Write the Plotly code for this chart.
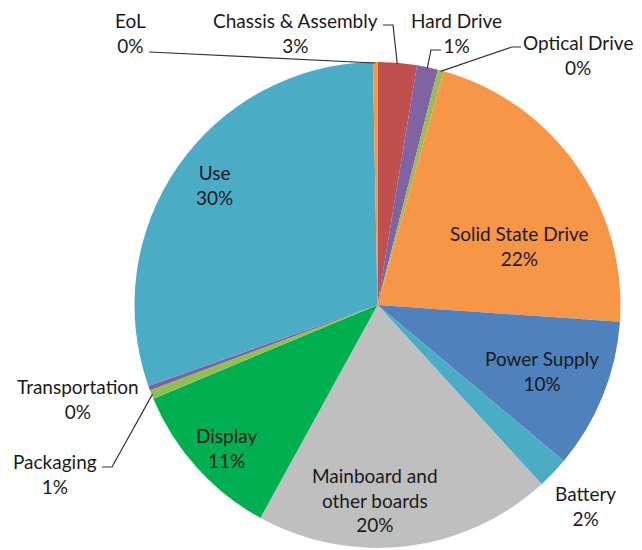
import math
import plotly.graph_objects as go

# ---- data ----
categories = ["Chassis & Assembly", "Hard Drive", "Optical Drive", "Solid State Drive",
              "Power Supply", "Battery", "Mainboard and other boards", "Display",
              "Packaging", "Transportation", "Use", "EoL"]
values = [2.6, 1.4, 0.4, 21.7, 10.0, 2.1, 19.8, 10.7, 0.6, 0.3, 30.1, 0.3]
colors = ["#C0504D", "#8064A2", "#9BBB59", "#F79646", "#4F81BD", "#4BACC6",
          "#BFBFBF", "#00B050", "#92C050", "#7F5FA8", "#4BACC6", "#F79646"]

# ---- layout (screen pixels; page body has an 8px margin) ----
OFF = 8
W, H = 642 - OFF, 550 - OFF
CX, CY, R = 377.5, 305, 243
FONT = "Lato"
TXT = "#1a1a1a"

total = sum(values)
pct = [v / total * 100 for v in values]

def px(x):
    return (x - OFF) / W

def py(y):
    return 1 - (y - OFF) / H

fig = go.Figure(go.Pie(
    labels=categories, values=values, sort=False, direction="clockwise", rotation=0,
    marker=dict(colors=colors, line=dict(width=0)), textinfo="none", hoverinfo="label+percent",
    showlegend=False,
    domain=dict(x=[px(CX - R), px(CX + R)], y=[py(CY + R), py(CY - R)]),
))

# label text positions (pixel centers of the text block)
label_pos = {
    "EoL": (131, 33),
    "Chassis & Assembly": (295, 33),
    "Hard Drive": (456, 33),
    "Optical Drive": (578, 55),
    "Solid State Drive": (519, 246),
    "Power Supply": (542, 371),
    "Battery": (585, 506),
    "Mainboard and other boards": (375, 500),
    "Display": (226, 448),
    "Packaging": (55, 474),
    "Transportation": (78, 399),
    "Use": (214, 185),
}
display_name = {"Mainboard and other boards": "Mainboard and<br>other boards"}

# leader lines: label-side points, ending on the slice edge
leaders = {
    "EoL": [(149, 52)],
    "Chassis & Assembly": [(383, 25), (393, 25)],
    "Hard Drive": [(441, 50), (431, 50)],
    "Optical Drive": [(521, 47), (512, 47)],
    "Packaging": [(102, 467), (112, 467)],
}

annotations = []
shapes = []
cum = 0.0
for name, p in zip(categories, pct):
    mid = (cum + p / 2) / 100 * 2 * math.pi
    cum += p
    lx, ly = label_pos[name]
    text = f"{display_name.get(name, name)}<br>{round(p):d}%"
    annotations.append(dict(x=px(lx), y=py(ly), xref="paper", yref="paper", text=text,
                            showarrow=False, xanchor="center", yanchor="middle",
                            font=dict(family=FONT, size=19, color=TXT), align="center"))
    if name in leaders:
        ex = CX + (R - 1) * math.sin(mid)
        ey = CY - (R - 1) * math.cos(mid)
        pts = leaders[name] + [(ex, ey)]
        path = "M " + " L ".join(f"{px(a):.5f},{py(b):.5f}" for a, b in pts)
        shapes.append(dict(type="path", path=path, xref="paper", yref="paper",
                           line=dict(color="#333333", width=1.2)))

fig.update_layout(
    width=W, height=H, margin=dict(l=0, r=0, t=0, b=0),
    paper_bgcolor="white", plot_bgcolor="white",
    annotations=annotations, shapes=shapes,
)

fig.write_html("out.html")
